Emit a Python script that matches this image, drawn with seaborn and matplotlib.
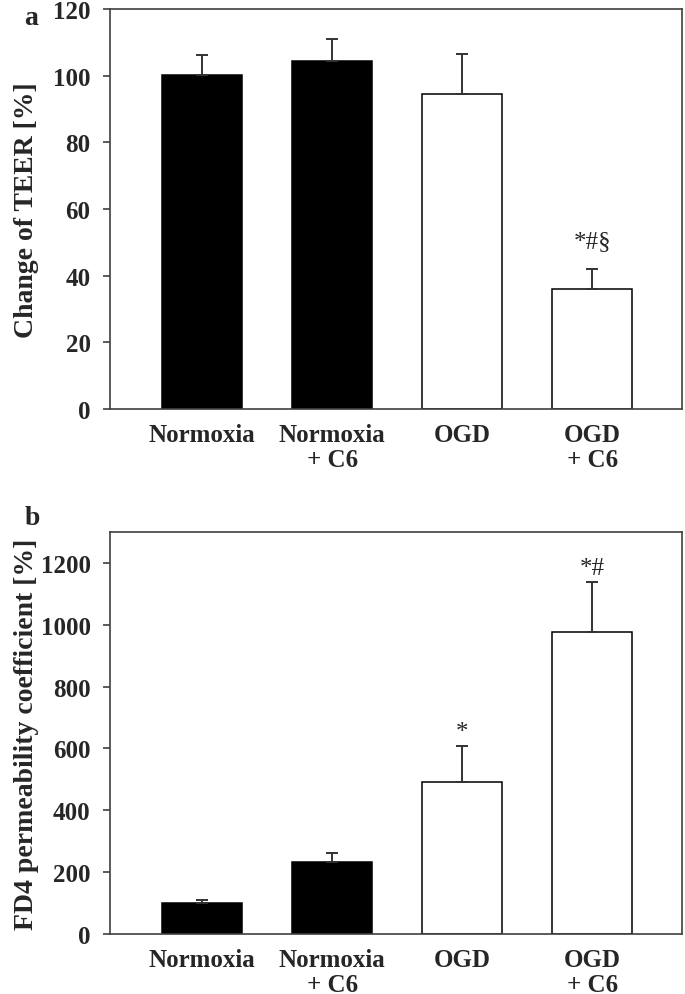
import pandas as pd
import matplotlib
matplotlib.use("Agg")
import matplotlib.pyplot as plt
import seaborn as sns

# data
groups = ["Normoxia", "Normoxia\n+ C6", "OGD", "OGD\n+ C6"]
teer_mean = [100.2, 104.4, 94.6, 36.0]
teer_err = [6.1, 6.7, 12.0, 6.1]
teer_marks = ["", "", "", "*#§"]
fd4_mean = [101, 234, 492, 976]
fd4_err = [8, 28, 117, 162]
fd4_marks = ["", "", "*", "*#"]
bar_colors = ["black", "black", "white", "white"]

sns.set_theme(style="white")
plt.rcParams['font.family'] = ['Liberation Serif', 'DejaVu Serif']

fig = plt.figure(figsize=(6.85, 9.95), dpi=100)
ax_a = fig.add_axes([0.1606, 0.588, 0.835, 0.402])
ax_b = fig.add_axes([0.1606, 0.0603, 0.835, 0.404])


def draw_panel(ax, means, errs, marks, ylim, yticks, ylabel, letter, mark_off):
    df = pd.DataFrame({"group": groups, "value": means})
    sns.barplot(data=df, x="group", y="value", hue="group", palette=bar_colors,
                order=groups, hue_order=groups, legend=False, errorbar=None,
                width=0.615, edgecolor="black", linewidth=1.1, ax=ax)
    ax.errorbar(range(len(groups)), means, yerr=[[0] * len(errs), errs],
                fmt="none", ecolor="#333333", elinewidth=1.4, capsize=4,
                capthick=1.4)
    for i, m in enumerate(marks):
        if m:
            ax.text(i, means[i] + errs[i] + mark_off, m, ha="center",
                    va="baseline", fontsize=18)
    ax.set_xlim(-0.71, 3.69)
    ax.set_ylim(*ylim)
    ax.set_yticks(yticks)
    ax.set_xlabel("")
    ax.set_ylabel(ylabel, fontsize=20, fontweight="bold")
    ax.yaxis.set_label_coords(-0.125, 0.5)
    ax.tick_params(axis="y", direction="out", length=5, width=1.2,
                   color="#404040", left=True, labelsize=18, pad=9)
    ax.tick_params(axis="x", length=0, labelsize=18, pad=10)
    for lab in ax.get_yticklabels() + ax.get_xticklabels():
        lab.set_fontweight("bold")
    for lab in ax.get_xticklabels():
        lab.set_linespacing(1.1)
    for sp in ax.spines.values():
        sp.set_visible(True)
        sp.set_color("#404040")
        sp.set_linewidth(1.2)
    ax.text(-0.15, letter[1], letter[0], transform=ax.transAxes, fontsize=20,
            fontweight="bold", ha="left", va="baseline")


draw_panel(ax_a, teer_mean, teer_err, teer_marks, (0, 120),
           range(0, 121, 20), "Change of TEER [%]", ("a", 0.962), 6.5)
draw_panel(ax_b, fd4_mean, fd4_err, fd4_marks, (0, 1300),
           range(0, 1201, 200), "FD4 permeability coefficient [%]", ("b", 1.02), 25)

fig.savefig("out.png", dpi=100)
